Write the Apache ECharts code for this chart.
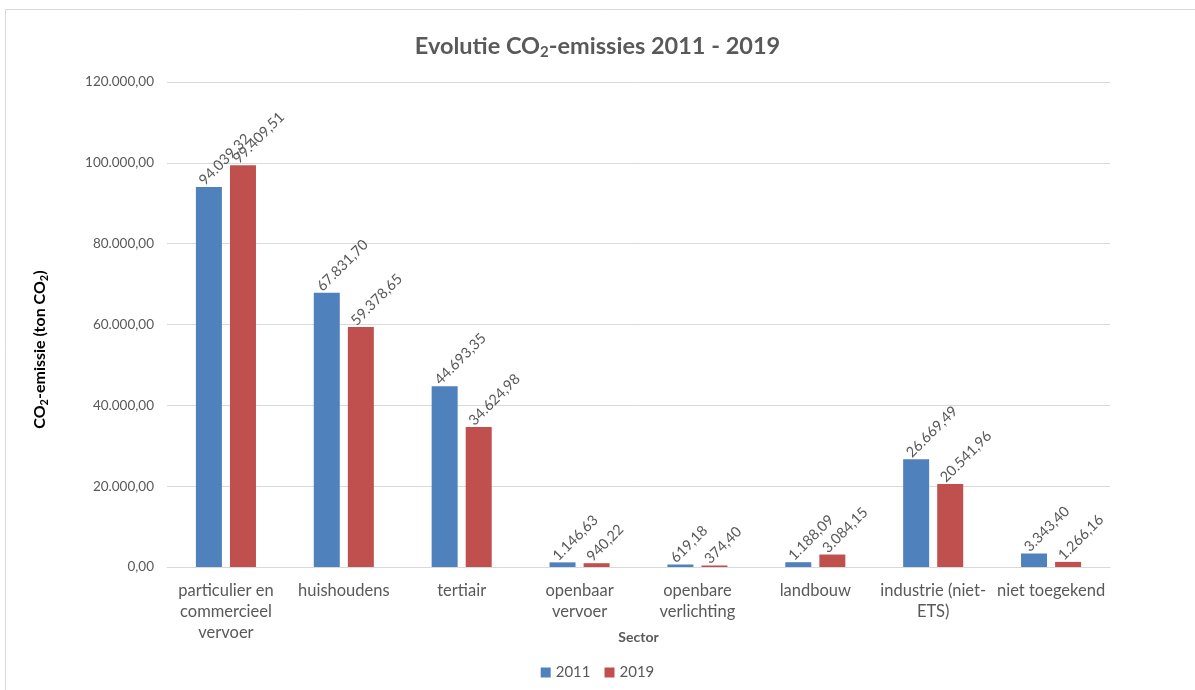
<!DOCTYPE html>
<html>
<head>
<meta charset="utf-8">
<script src="https://cdn.jsdelivr.net/npm/echarts@6/dist/echarts.min.js"></script>
<style>
  html, body { margin: 0; padding: 0; background: #fff; }
  #chart { width: 1195px; height: 690px; }
</style>
</head>
<body>
<div id="chart"></div>
<script>
// sectoren en emissies (ton CO2)
const sectors = [
  'particulier en\ncommercieel\nvervoer',
  'huishoudens',
  'tertiair',
  'openbaar\nvervoer',
  'openbare\nverlichting',
  'landbouw',
  'industrie (niet-\nETS)',
  'niet toegekend'
];
const values2011 = [94039.32, 67831.70, 44693.35, 1146.63, 619.18, 1188.09, 26669.49, 3343.40];
const values2019 = [99409.51, 59378.65, 34624.98, 940.22, 374.40, 3084.15, 20541.96, 1266.16];
const yMin = 0, yMax = 120000, yStep = 20000;

const FONT = 'Lato, "Open Sans", sans-serif';
const GREY = '#595959';

// 12345.6 -> "12.345,60"
function nl(v) {
  const parts = v.toFixed(2).split('.');
  return parts[0].replace(/\B(?=(\d{3})+(?!\d))/g, '.') + ',' + parts[1];
}

const chart = echarts.init(document.getElementById('chart'), null, { renderer: 'canvas' });

const barLabel = {
  show: true,
  position: 'top',
  distance: 1,
  rotate: 45,
  align: 'left',
  verticalAlign: 'bottom',
  offset: [-3, 0],
  color: GREY,
  fontFamily: FONT,
  fontSize: 14.5,
  formatter: p => nl(p.value)
};

const option = {
  backgroundColor: '#ffffff',
  animation: false,
  textStyle: { fontFamily: FONT },
  title: {
    text: 'Evolutie CO{s|2}-emissies 2011 - 2019',
    left: 'center',
    top: 27,
    textStyle: {
      color: GREY,
      fontSize: 23.5,
      fontWeight: 'bold',
      fontFamily: FONT,
      rich: {
        s: { fontSize: 15, fontWeight: 'bold', color: GREY, fontFamily: FONT, verticalAlign: 'bottom', padding: [13, 0, 0, 0] }
      }
    }
  },
  legend: {
    bottom: 5,
    left: 'center',
    itemWidth: 10,
    itemHeight: 10,
    itemGap: 14,
    icon: 'rect',
    textStyle: { color: GREY, fontSize: 15, fontFamily: FONT },
    data: ['2011', '2019']
  },
  grid: {
    left: 167,
    right: 85,
    top: 82,
    bottom: 123
  },
  xAxis: {
    type: 'category',
    data: sectors,
    name: 'Sector',
    nameLocation: 'middle',
    nameGap: 63,
    nameMoveOverlap: false,
    nameTextStyle: { color: GREY, fontSize: 14, fontWeight: 'bold', fontFamily: FONT },
    axisLine: { lineStyle: { color: '#d9d9d9', width: 1 } },
    axisTick: { show: false },
    axisLabel: {
      interval: 0,
      color: GREY,
      fontSize: 16.5,
      lineHeight: 21,
      margin: 13,
      fontFamily: FONT
    }
  },
  yAxis: {
    type: 'value',
    min: yMin,
    max: yMax,
    interval: yStep,
    name: 'CO{s|2}-emissie (ton CO{s|2})',
    nameLocation: 'middle',
    nameGap: 117,
    nameRotate: 90,
    nameTextStyle: {
      color: '#000',
      fontSize: 16,
      fontWeight: 'bold',
      fontFamily: FONT,
      padding: [0, 50, 0, 0],
      rich: {
        s: { fontSize: 11, fontWeight: 'bold', color: '#000', fontFamily: FONT, verticalAlign: 'bottom', padding: [10, 0, 0, 0] }
      }
    },
    axisLine: { show: false },
    axisTick: { show: false },
    splitLine: { lineStyle: { color: '#d9d9d9', width: 1 } },
    axisLabel: {
      color: GREY,
      fontSize: 13.5,
      margin: 13,
      fontFamily: FONT,
      formatter: v => nl(v)
    }
  },
  graphic: [{
    type: 'rect',
    silent: true,
    z: -1,
    shape: { x: 5.5, y: 9.5, width: 1300, height: 800 },
    style: { fill: 'none', stroke: '#d9d9d9', lineWidth: 1 }
  }],
  series: [
    {
      name: '2011',
      type: 'bar',
      data: values2011,
      barWidth: 26,
      barGap: '31%',
      itemStyle: { color: '#4F81BD' },
      label: barLabel
    },
    {
      name: '2019',
      type: 'bar',
      data: values2019,
      barWidth: 26,
      barGap: '31%',
      itemStyle: { color: '#C0504D' },
      label: barLabel
    }
  ]
};

chart.setOption(option);
</script>
</body>
</html>
